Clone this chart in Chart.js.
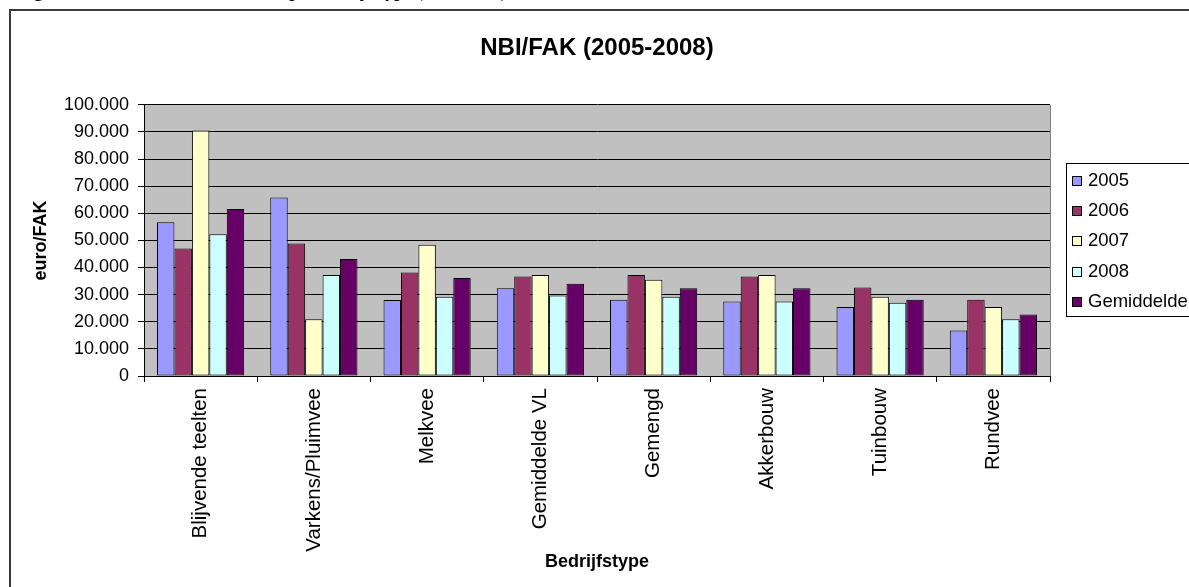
<!DOCTYPE html>
<html><head><meta charset="utf-8">
<script src="https://cdn.jsdelivr.net/npm/chart.js@4/dist/chart.umd.min.js"></script>
<style>
html,body{margin:0;padding:0;background:#fff;overflow:hidden;}
#wrap{position:relative;width:1189px;height:587px;overflow:hidden;}
#cap{position:absolute;left:18px;top:-19px;font:bold 18px "Liberation Serif","DejaVu Serif",serif;white-space:nowrap;color:#000;}
canvas{position:absolute;left:0;top:0;}
</style></head><body>
<div id="wrap"><canvas id="c" width="1189" height="587"></canvas><div id="cap">Figuur: Evolutie van het NBI/FAK per bedrijfstype (2005-2008)</div></div>
<script>
const categories = ['Blijvende teelten','Varkens/Pluimvee','Melkvee','Gemiddelde VL','Gemengd','Akkerbouw','Tuinbouw','Rundvee'];
const seriesNames = ['2005','2006','2007','2008','Gemiddelde'];
const values2005 = [56700, 65800, 28000, 32400, 28100, 27500, 25400, 16800];
const values2006 = [47000, 48900, 38200, 36700, 37200, 36700, 32600, 28100];
const values2007 = [90500, 20900, 48400, 37200, 35500, 37200, 29200, 25400];
const values2008 = [52300, 37200, 29200, 29700, 29200, 27500, 27000, 20900];
const valuesGem  = [61600, 43100, 36100, 34000, 32400, 32400, 28100, 22700];
const yTickValues = [0,10000,20000,30000,40000,50000,60000,70000,80000,90000,100000];
const chartTitle = 'NBI/FAK (2005-2008)';
const yTitle = 'euro/FAK';
const xTitle = 'Bedrijfstype';

const colors = ['#9999FF','#993366','#FFFFCC','#CCFFFF','#660066'];
const allValues = [values2005, values2006, values2007, values2008, valuesGem];
const FONT = '"Liberation Sans", Arial, sans-serif';
Chart.defaults.font.family = FONT;
Chart.defaults.color = '#000';

function fmt(v){ return String(v).replace(/\B(?=(\d{3})+(?!\d))/g, '.'); }

const framePlugin = {
  id: 'frame',
  beforeDraw(chart){
    const {ctx, chartArea: a} = chart;
    ctx.save();
    ctx.fillStyle = '#fff';
    ctx.fillRect(0,0,chart.width,chart.height);
    ctx.strokeStyle = '#3a3a3a';
    ctx.lineWidth = 2;
    ctx.strokeRect(10, 10, 1400, 800);
    ctx.fillStyle = '#C0C0C0';
    ctx.fillRect(a.left, a.top, a.right - a.left, a.bottom - a.top);
    ctx.restore();
  },
  beforeDatasetsDraw(chart){
    const {ctx, chartArea: a} = chart;
    ctx.save();
    ctx.strokeStyle = '#808080';
    ctx.lineWidth = 1;
    ctx.beginPath();
    ctx.moveTo(Math.round(a.right)+0.5, a.top);
    ctx.lineTo(Math.round(a.right)+0.5, a.bottom);
    ctx.stroke();
    ctx.restore();
  },
  afterDraw(chart){
    const ctx = chart.ctx;
    ctx.save();
    ctx.strokeStyle = '#000';
    ctx.lineWidth = 1;
    ctx.strokeRect(1066.5, 163.5, 200, 153);
    ctx.font = '18.5px ' + FONT;
    ctx.textBaseline = 'middle';
    ctx.textAlign = 'left';
    chart.data.datasets.forEach((ds, i) => {
      const cy = 181 + i * 30.2;
      ctx.fillStyle = ds.backgroundColor;
      ctx.fillRect(1072.5, Math.round(cy) - 4.5, 9, 9);
      ctx.strokeRect(1072.5, Math.round(cy) - 4.5, 9, 9);
      ctx.fillStyle = '#000';
      ctx.fillText(ds.label, 1088, cy);
    });
    ctx.restore();
  }
};

new Chart(document.getElementById('c'), {
  type: 'bar',
  data: {
    labels: categories,
    datasets: seriesNames.map((n, i) => ({
      label: n,
      data: allValues[i],
      backgroundColor: colors[i],
      borderColor: '#000',
      borderWidth: 1,
      borderSkipped: false,
      categoryPercentage: 0.77,
      barPercentage: 1.0
    }))
  },
  options: {
    responsive: false,
    animation: false,
    devicePixelRatio: 1,
    layout: { padding: { left: 10, right: 139, top: 0, bottom: 0 } },
    plugins: {
      legend: { display: false },
      tooltip: { enabled: false },
      title: {
        display: true, text: chartTitle, fullSize: false,
        font: { size: 24, weight: 'bold', family: FONT }, color: '#000',
        padding: { top: 34, bottom: 42 }
      }
    },
    scales: {
      x: {
        type: 'category',
        offset: true,
        grid: { offset: true, drawOnChartArea: false, drawTicks: true, tickLength: 6, color: '#000' },
        border: { color: '#000', width: 1 },
        ticks: { minRotation: 90, maxRotation: 90, autoSkip: false, padding: 6, font: { size: 20.5 }, color: '#000' },
        title: { display: true, text: xTitle, font: { size: 18, weight: 'bold' }, color: '#000', padding: { top: 0, bottom: 14 } },
        afterFit(scale){ scale.height = 211; }
      },
      y: {
        min: 0, max: 100000,
        afterBuildTicks(scale){ scale.ticks = yTickValues.map(v => ({ value: v })); },
        grid: { color: '#000', tickLength: 6, drawTicks: true },
        border: { color: '#000', width: 1 },
        ticks: { padding: 9, font: { size: 18 }, color: '#000', callback: v => fmt(v) },
        title: { display: true, text: yTitle, font: { size: 18, weight: 'bold' }, color: '#000', padding: { top: 20, bottom: 0 } },
        afterFit(scale){ scale.width = 134; }
      }
    }
  },
  plugins: [framePlugin]
});
</script>
</body></html>
